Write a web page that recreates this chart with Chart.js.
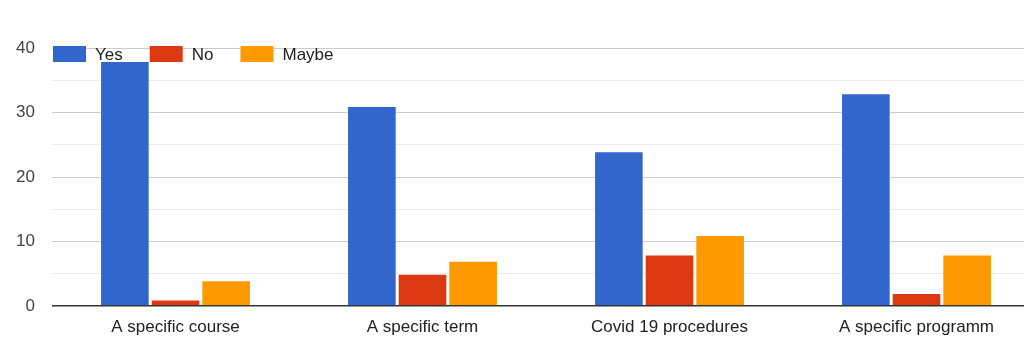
<!DOCTYPE html>
<html>
<head>
<meta charset="utf-8">
<script src="https://cdn.jsdelivr.net/npm/chart.js@4/dist/chart.umd.min.js"></script>
<style>
  html, body { margin: 0; padding: 0; background: #fff; }
  #wrap { width: 1024px; height: 362px; overflow: hidden; }
</style>
</head>
<body>
<!-- the original is cropped on the right, so the canvas runs a bit past the window -->
<div id="wrap"><canvas id="surveyChart" width="1040" height="362"></canvas></div>
<script>
const categories = ['A specific course', 'A specific term', 'Covid 19 procedures', 'A specific programm'];
const yesValues = [38, 31, 24, 33];
const noValues = [1, 5, 8, 2];
const maybeValues = [4, 7, 11, 8];
const seriesNames = ['Yes', 'No', 'Maybe'];
const seriesColors = ['#3366cc', '#dc3912', '#ff9900'];

const fontFamily = '"Liberation Sans", Arial, sans-serif';

// legend drawn over the top of the plot, like the original
const topLegend = {
    id: 'topLegend',
    afterDraw(chart) {
        const ctx = chart.ctx;
        const area = chart.chartArea;
        let x = area.left + 1;
        const y = 46;
        ctx.save();
        ctx.font = '17px ' + fontFamily;
        ctx.textBaseline = 'middle';
        chart.data.datasets.forEach(function(ds) {
            ctx.fillStyle = ds.backgroundColor;
            ctx.fillRect(x, y, 33, 16);
            ctx.fillStyle = '#222';
            ctx.fillText(ds.label, x + 42, y + 9);
            x += 42 + ctx.measureText(ds.label).width + 27;
        });
        ctx.restore();
    }
};

const ctx = document.getElementById('surveyChart').getContext('2d');
new Chart(ctx, {
    type: 'bar',
    data: {
        labels: categories,
        datasets: [yesValues, noValues, maybeValues].map(function(vals, i) {
            return {
                label: seriesNames[i],
                data: vals,
                backgroundColor: seriesColors[i],
                borderColor: 'rgba(255,255,255,0.35)',
                borderWidth: 1,
                categoryPercentage: 0.615,
                barPercentage: 0.98
            };
        })
    },
    options: {
        responsive: false,
        animation: false,
        layout: { padding: { top: 48, right: 0, left: 0, bottom: 0 } },
        scales: {
            x: {
                grid: { display: false, drawTicks: false },
                border: { display: false },
                ticks: {
                    color: '#222',
                    padding: 11,
                    font: { family: fontFamily, size: 17 }
                },
                afterFit: function(scale) { scale.height = 56; }
            },
            y: {
                min: 0,
                max: 40,
                ticks: {
                    stepSize: 5,
                    color: '#444',
                    padding: 17,
                    font: { family: fontFamily, size: 17 },
                    callback: function(v) { return v % 10 === 0 ? v : ''; }
                },
                grid: {
                    drawTicks: false,
                    color: function(c) {
                        if (c.tick.value === 0) return '#333';
                        return c.tick.value % 10 === 0 ? '#cccccc' : '#ebebeb';
                    },
                    lineWidth: function(c) { return c.tick.value === 0 ? 1.5 : 1; }
                },
                border: { display: false },
                afterFit: function(scale) { scale.width = 52; }
            }
        },
        plugins: {
            legend: { display: false },
            tooltip: { enabled: false }
        }
    },
    plugins: [topLegend]
});
</script>
</body>
</html>
